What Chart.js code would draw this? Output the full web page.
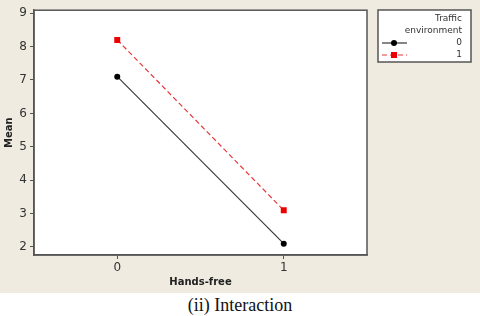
<!DOCTYPE html>
<html>
<head>
<meta charset="utf-8">
<script src="https://cdn.jsdelivr.net/npm/chart.js@4"></script>
<style>
  body { margin: 0; background: #fff; }
  #wrap { width: 480px; height: 293px; background: #efebe1; position: relative; }
  #caption { width: 480px; text-align: center; font-family: "Liberation Serif", serif; font-size: 18px; color: #111; line-height: 25px; }
</style>
</head>
<body>
<div id="wrap"><canvas id="myChart" width="480" height="293"></canvas></div>
<div id="caption">(ii) Interaction</div>
<script>
var handsFree = [0, 1];
var env0 = [7.1, 2.1];
var env1 = [8.2, 3.1];
var yTicks = [2, 3, 4, 5, 6, 7, 8, 9];
var legendTitle = ["Traffic", "environment"];
var seriesNames = ["0", "1"];

function pts(vals) {
  return handsFree.map(function (x, i) { return { x: x, y: vals[i] }; });
}

var frame = {
  id: 'frame',
  beforeDraw: function (chart) {
    var c = chart.ctx, a = chart.chartArea;
    c.save();
    c.fillStyle = '#fff';
    c.fillRect(a.left, a.top, a.right - a.left, a.bottom - a.top);
    c.restore();
  },
  afterDraw: function (chart) {
    var c = chart.ctx, a = chart.chartArea;
    c.save();
    c.strokeStyle = '#555';
    c.lineWidth = 1.5;
    c.strokeRect(a.left, a.top, a.right - a.left, a.bottom - a.top);
    // legend box
    var lx = 378, ly = 10, lw = 93, lh = 52;
    c.fillStyle = '#fff';
    c.fillRect(lx, ly, lw, lh);
    c.strokeRect(lx, ly, lw, lh);
    c.fillStyle = '#333';
    c.font = '9px "DejaVu Sans"';
    c.textAlign = 'right';
    c.textBaseline = 'middle';
    c.fillText(legendTitle[0], 462, 19);
    c.fillText(legendTitle[1], 462, 31);
    chart.data.datasets.forEach(function (ds, i) {
      var y = 43 + i * 12;
      c.fillStyle = '#333';
      c.fillText(seriesNames[i], 462, y);
      c.strokeStyle = ds.borderColor;
      c.lineWidth = 1.2;
      c.setLineDash(ds.borderDash || []);
      c.beginPath(); c.moveTo(382, y); c.lineTo(407, y); c.stroke();
      c.setLineDash([]);
      c.fillStyle = ds.pointBackgroundColor;
      if (ds.pointStyle === 'rect') {
        c.fillRect(391, y - 3, 6, 6);
      } else {
        c.beginPath(); c.arc(394, y, 3, 0, Math.PI * 2); c.fill();
      }
    });
    c.restore();
  }
};

var ctx = document.getElementById("myChart");
var myChart = new Chart(ctx, {
  type: 'scatter',
  data: {
    datasets: [{
      label: seriesNames[0],
      data: pts(env0),
      showLine: true,
      borderColor: '#333',
      borderWidth: 1.1,
      pointStyle: 'circle',
      pointRadius: 3,
      pointBackgroundColor: '#000',
      pointBorderWidth: 0,
    }, {
      label: seriesNames[1],
      data: pts(env1),
      showLine: true,
      borderColor: '#e8383b',
      borderWidth: 1.2,
      borderDash: [5, 3],
      pointStyle: 'rect',
      pointRadius: 4.2,
      pointBackgroundColor: '#ee0000',
      pointBorderWidth: 0,
    }]
  },
  options: {
    responsive: false,
    animation: false,
    layout: { padding: { top: 10, right: 113, left: 0, bottom: 0 } },
    scales: {
      x: {
        type: 'linear',
        min: -0.5,
        max: 1.5,
        afterBuildTicks: function (s) { s.ticks = handsFree.map(function (v) { return { value: v }; }); },
        afterFit: function (s) { s.height = 38; },
        ticks: { color: '#333', font: { family: 'DejaVu Sans', size: 12 }, padding: 2 },
        grid: { drawOnChartArea: false, tickLength: 4, color: '#555' },
        border: { color: '#555', width: 1.5 },
        title: { display: true, text: 'Hands-free', color: '#222', font: { family: 'DejaVu Sans', size: 10, weight: 'bold' }, padding: { top: 0, bottom: 5 } }
      },
      y: {
        min: 1.76,
        max: 9.09,
        afterBuildTicks: function (s) { s.ticks = yTicks.map(function (v) { return { value: v }; }); },
        afterFit: function (s) { s.width = 34; },
        ticks: { color: '#333', font: { family: 'DejaVu Sans', size: 12 }, padding: 3 },
        grid: { drawOnChartArea: false, tickLength: 4, color: '#555' },
        border: { color: '#555', width: 1.5 },
        title: { display: true, text: 'Mean', color: '#222', font: { family: 'DejaVu Sans', size: 10, weight: 'bold' }, padding: { top: 3, bottom: 0 } }
      }
    },
    plugins: {
      legend: { display: false },
      tooltip: { enabled: false }
    }
  },
  plugins: [frame]
});
</script>
</body>
</html>
